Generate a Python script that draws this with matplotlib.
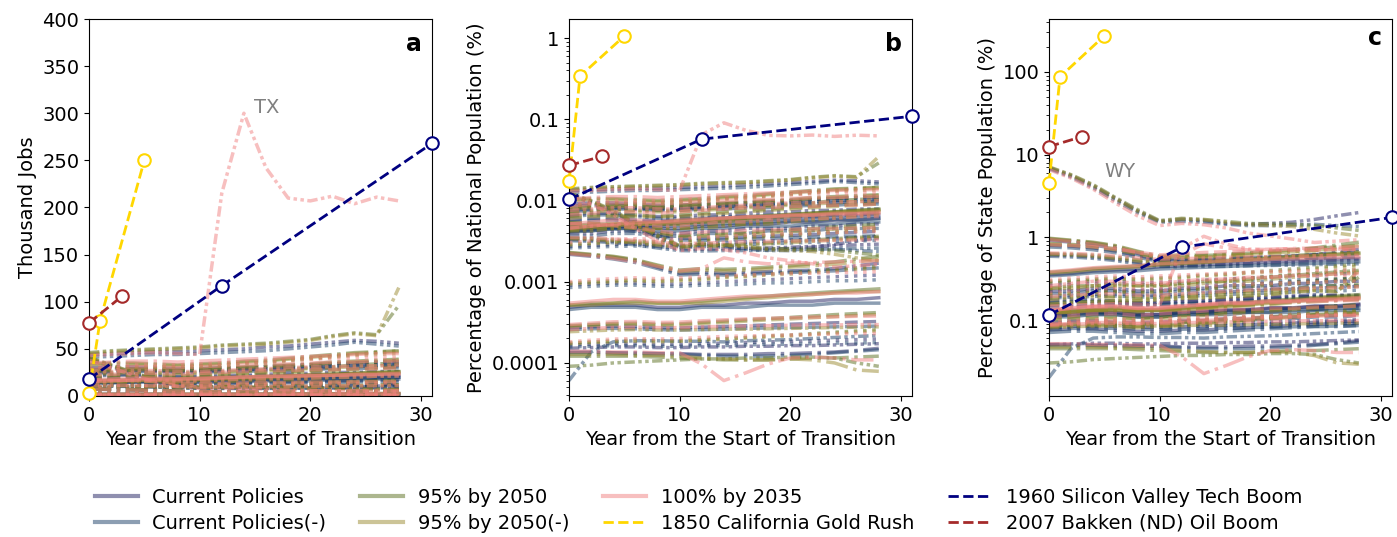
import numpy as np
import matplotlib
matplotlib.use('Agg')
import matplotlib.pyplot as plt
from matplotlib.lines import Line2D
from matplotlib.ticker import FuncFormatter

# annees depuis le debut de la transition (pas de 2 ans)
YEARS = list(range(0, 29, 2))
SCENARIOS = ['Current Policies', 'Current Policies(-)', '95% by 2050',
             '95% by 2050(-)', '100% by 2035']
US_POP = 331449  # milliers d'habitants

STATES = ['TX', 'CA', 'PA', 'OH', 'IL', 'NY', 'FL', 'CO', 'LA', 'OK',
          'NM', 'ND', 'WV', 'MT', 'NH', 'RI', 'SD', 'DE', 'VT', 'WY']
STATE_POP = [29146, 39538, 13003, 11799, 12813, 20201, 21538, 5774, 4658, 3959,
             2118, 779, 1794, 1084, 1377, 1097, 887, 990, 643, 577]

# emplois (milliers) par scenario : CP, CP(-), 95%, 95%(-), 100%
TX = [[44, 45, 46, 47, 47, 48, 49, 50, 52, 53, 55, 57, 59, 58, 56],
      [41, 42, 43, 44, 44, 45, 46, 47, 48, 50, 52, 54, 57, 55, 53],
      [46, 48, 49, 50, 51, 52, 54, 55, 56, 58, 60, 64, 67, 65, 96],
      [45, 47, 48, 49, 50, 51, 53, 54, 55, 57, 59, 63, 66, 64, 115],
      [43, 44, 45, 46, 45, 44, 215, 300, 242, 210, 207, 212, 204, 211, 207]]
CA = [[30, 31, 31, 30, 29, 29, 30, 30, 31, 32, 33, 34, 35, 36, 36],
      [28, 29, 29, 28, 27, 27, 28, 28, 29, 30, 31, 32, 33, 33, 34],
      [34, 35, 35, 34, 33, 34, 35, 37, 38, 40, 42, 44, 46, 47, 48],
      [33, 34, 34, 33, 32, 33, 34, 36, 37, 39, 41, 43, 45, 46, 47],
      [35, 36, 37, 37, 36, 37, 38, 39, 40, 41, 42, 43, 44, 45, 45]]
PA = [[22, 23, 23, 22, 21, 21, 22, 22, 23, 24, 24, 25, 25, 26, 26],
      [21, 22, 22, 21, 20, 20, 20, 21, 21, 22, 22, 23, 23, 24, 24],
      [24, 25, 26, 25, 25, 25, 26, 27, 28, 29, 30, 31, 33, 34, 35],
      [23, 24, 25, 24, 24, 24, 25, 26, 27, 28, 29, 30, 31, 32, 33],
      [25, 26, 27, 27, 26, 26, 27, 28, 29, 30, 31, 31, 32, 32, 33]]
OH = [[27, 28, 28, 27, 27, 28, 29, 30, 31, 32, 33, 34, 35, 36, 38],
      [26, 27, 27, 26, 26, 27, 27, 28, 29, 30, 31, 32, 33, 34, 35],
      [29, 30, 31, 31, 31, 32, 33, 35, 36, 38, 40, 42, 44, 46, 48],
      [28, 29, 30, 30, 30, 31, 32, 34, 35, 37, 39, 41, 43, 44, 45],
      [30, 32, 33, 33, 33, 34, 35, 36, 37, 38, 39, 40, 40, 41, 41]]
IL = [[15, 15, 16, 16, 15, 15, 16, 16, 17, 17, 18, 18, 19, 19, 20],
      [14, 14, 15, 15, 14, 14, 15, 15, 16, 16, 16, 17, 17, 18, 18],
      [16, 17, 17, 18, 17, 17, 18, 19, 20, 21, 22, 23, 24, 25, 26],
      [16, 16, 17, 17, 17, 17, 18, 18, 19, 20, 21, 22, 23, 24, 24],
      [17, 18, 19, 19, 18, 18, 19, 20, 21, 21, 22, 22, 23, 23, 24]]
NY = [[19, 20, 20, 19, 19, 19, 20, 20, 21, 21, 22, 22, 23, 23, 24],
      [18, 19, 19, 18, 18, 18, 19, 19, 20, 20, 21, 21, 22, 22, 23],
      [21, 22, 22, 22, 21, 22, 23, 24, 25, 26, 27, 28, 29, 30, 31],
      [20, 21, 21, 21, 21, 21, 22, 23, 24, 25, 26, 27, 28, 29, 30],
      [22, 23, 24, 24, 23, 24, 25, 26, 27, 27, 28, 28, 29, 29, 30]]
FL = [[25, 26, 27, 27, 26, 26, 27, 28, 28, 29, 30, 30, 31, 32, 32],
      [24, 25, 26, 26, 25, 25, 26, 26, 27, 27, 28, 29, 29, 30, 30],
      [27, 28, 29, 29, 28, 29, 30, 31, 32, 33, 34, 36, 37, 38, 39],
      [26, 27, 28, 28, 27, 28, 29, 30, 31, 32, 33, 35, 36, 37, 38],
      [28, 30, 31, 31, 30, 31, 32, 33, 34, 34, 35, 36, 36, 37, 37]]
CO = [[13, 13, 14, 14, 13, 13, 14, 14, 15, 15, 15, 16, 16, 17, 17],
      [12, 12, 13, 13, 12, 12, 13, 13, 13, 14, 14, 14, 15, 15, 15],
      [14, 15, 15, 16, 15, 15, 16, 17, 17, 18, 19, 20, 21, 22, 23],
      [14, 14, 15, 15, 15, 15, 15, 16, 17, 17, 18, 19, 20, 21, 22],
      [15, 16, 17, 17, 16, 16, 17, 18, 18, 19, 19, 20, 20, 21, 21]]
LA = [[9.0, 9.2, 9.5, 9.6, 9.4, 9.3, 9.6, 9.9, 10.2, 10.5, 10.8, 11.0, 11.3, 11.6, 11.9],
      [8.6, 8.8, 9.0, 9.1, 8.9, 8.8, 9.0, 9.2, 9.5, 9.7, 9.9, 10.1, 10.3, 10.5, 10.7],
      [9.6, 9.9, 10.3, 10.5, 10.3, 10.4, 10.9, 11.4, 11.9, 12.4, 12.9, 13.4, 14.0, 14.6, 15.2],
      [9.4, 9.7, 10.0, 10.2, 10.0, 10.1, 10.5, 11.0, 11.4, 11.9, 12.3, 12.8, 13.3, 13.8, 14.3],
      [10.0, 10.5, 11.0, 11.2, 11.0, 11.1, 11.6, 12.0, 12.4, 12.7, 13.0, 13.2, 13.4, 13.6, 13.8]]
OK = [[14.0, 14.5, 15.5, 16.0, 16.5, 17.5, 18.0, 18.5, 19.0, 19.5, 20.0, 20.5, 21.0, 21.5, 22.0],
      [13.5, 14.0, 14.8, 15.2, 15.6, 16.4, 16.8, 17.2, 17.6, 18.0, 18.4, 18.8, 19.2, 19.6, 20.0],
      [15.0, 15.6, 16.6, 17.2, 17.8, 18.8, 19.4, 20.0, 20.8, 21.6, 22.4, 23.2, 24.0, 24.8, 25.6],
      [14.6, 15.2, 16.2, 16.8, 17.4, 18.4, 19.0, 19.6, 20.4, 21.2, 22.0, 22.8, 23.6, 24.4, 25.2],
      [15.2, 16.0, 17.0, 17.6, 18.0, 19.0, 19.6, 20.2, 20.6, 21.0, 21.4, 21.8, 22.2, 22.6, 23.0]]
NM = [[17.0, 16.6, 15.8, 14.5, 12.8, 11.4, 11.3, 11.5, 11.8, 12.0, 12.3, 12.6, 13.0, 13.4, 13.8],
      [16.2, 15.8, 15.0, 13.8, 12.2, 10.8, 10.7, 10.8, 11.0, 11.2, 11.4, 11.6, 11.8, 12.0, 12.2],
      [17.8, 17.4, 16.6, 15.4, 13.6, 12.2, 12.4, 12.8, 13.3, 13.8, 14.4, 15.0, 15.6, 16.2, 16.8],
      [17.4, 17.0, 16.2, 15.0, 13.3, 11.9, 12.0, 12.4, 12.8, 13.2, 13.7, 14.2, 14.7, 15.2, 15.7],
      [17.2, 16.9, 16.3, 15.3, 14.0, 13.0, 13.4, 13.9, 14.2, 14.4, 14.6, 14.8, 15.0, 15.1, 15.2]]
ND = [[7.4, 7.0, 6.6, 6.0, 5.0, 4.2, 4.3, 4.2, 4.3, 4.4, 4.5, 4.6, 4.8, 5.2, 5.6],
      [7.2, 6.8, 6.3, 5.7, 4.8, 4.0, 4.1, 4.0, 4.1, 4.2, 4.3, 4.4, 4.5, 4.7, 4.9],
      [7.6, 7.2, 6.8, 6.2, 5.3, 4.6, 4.8, 4.7, 4.8, 5.0, 5.2, 5.5, 5.8, 6.3, 6.8],
      [7.5, 7.1, 6.7, 6.1, 5.2, 4.4, 4.6, 4.5, 4.6, 4.8, 5.0, 5.2, 5.4, 5.8, 6.2],
      [7.3, 6.9, 6.4, 5.8, 5.1, 4.5, 4.8, 6.5, 5.8, 5.5, 5.6, 5.7, 5.8, 5.9, 6.0]]
WV = [[11.0, 10.8, 10.4, 9.8, 9.0, 8.4, 8.3, 8.4, 8.5, 8.6, 8.8, 9.0, 9.2, 9.4, 9.6],
      [10.6, 10.4, 10.0, 9.4, 8.6, 8.0, 7.9, 8.0, 8.0, 8.1, 8.2, 8.3, 8.4, 8.5, 8.6],
      [11.4, 11.2, 10.9, 10.3, 9.6, 9.1, 9.2, 9.4, 9.7, 10.0, 10.4, 10.8, 11.2, 11.6, 12.0],
      [11.2, 11.0, 10.6, 10.0, 9.3, 8.8, 8.9, 9.1, 9.4, 9.7, 10.0, 10.4, 10.8, 11.2, 11.6],
      [11.6, 11.5, 11.2, 10.7, 10.1, 9.7, 9.9, 10.1, 10.3, 10.4, 10.5, 10.6, 10.7, 10.8, 10.9]]
MT = [[3.0, 3.1, 3.2, 3.2, 3.1, 3.1, 3.2, 3.3, 3.4, 3.5, 3.6, 3.7, 3.8, 3.9, 4.0],
      [2.8, 2.9, 3.0, 3.0, 2.9, 2.9, 3.0, 3.0, 3.1, 3.2, 3.2, 3.3, 3.4, 3.4, 3.5],
      [3.2, 3.3, 3.4, 3.5, 3.4, 3.5, 3.6, 3.8, 3.9, 4.1, 4.3, 4.5, 4.7, 4.9, 5.1],
      [3.1, 3.2, 3.3, 3.4, 3.3, 3.4, 3.5, 3.7, 3.8, 4.0, 4.1, 4.3, 4.5, 4.7, 4.8],
      [3.3, 3.5, 3.6, 3.7, 3.6, 3.7, 3.8, 3.9, 4.0, 4.1, 4.2, 4.2, 4.3, 4.3, 4.4]]
NH = [[1.6, 1.7, 1.7, 1.7, 1.6, 1.6, 1.7, 1.7, 1.8, 1.8, 1.9, 1.9, 2.0, 2.0, 2.1],
      [1.5, 1.6, 1.6, 1.6, 1.5, 1.5, 1.6, 1.6, 1.6, 1.7, 1.7, 1.7, 1.8, 1.8, 1.8],
      [1.7, 1.8, 1.8, 1.9, 1.8, 1.8, 1.9, 2.0, 2.1, 2.2, 2.3, 2.4, 2.5, 2.6, 2.7],
      [1.7, 1.7, 1.8, 1.8, 1.8, 1.8, 1.8, 1.9, 2.0, 2.1, 2.2, 2.3, 2.4, 2.5, 2.5],
      [1.8, 1.9, 2.0, 2.0, 1.9, 1.9, 2.0, 2.1, 2.2, 2.2, 2.3, 2.3, 2.4, 2.4, 2.5]]
RI = [[0.90, 0.92, 0.94, 0.93, 0.90, 0.89, 0.91, 0.93, 0.95, 0.97, 0.99, 1.01, 1.03, 1.05, 1.07],
      [0.85, 0.87, 0.88, 0.87, 0.85, 0.84, 0.85, 0.86, 0.88, 0.89, 0.90, 0.91, 0.92, 0.93, 0.94],
      [0.95, 0.98, 1.01, 1.02, 0.99, 1.00, 1.04, 1.08, 1.12, 1.16, 1.20, 1.25, 1.30, 1.34, 1.38],
      [0.93, 0.96, 0.98, 0.99, 0.97, 0.97, 1.01, 1.04, 1.08, 1.12, 1.15, 1.19, 1.23, 1.27, 1.31],
      [0.98, 1.02, 1.06, 1.07, 1.04, 1.05, 1.09, 1.12, 1.15, 1.17, 1.19, 1.21, 1.22, 1.24, 1.25]]
SD = [[0.45, 0.45, 0.44, 0.44, 0.43, 0.43, 0.42, 0.42, 0.42, 0.43, 0.43, 0.44, 0.45, 0.47, 0.50],
      [0.44, 0.44, 0.44, 0.43, 0.43, 0.42, 0.41, 0.40, 0.40, 0.40, 0.41, 0.42, 0.44, 0.46, 0.48],
      [0.40, 0.40, 0.40, 0.40, 0.39, 0.38, 0.37, 0.36, 0.36, 0.36, 0.37, 0.38, 0.38, 0.39, 0.40],
      [0.42, 0.42, 0.42, 0.41, 0.41, 0.40, 0.38, 0.37, 0.36, 0.36, 0.37, 0.36, 0.33, 0.27, 0.26],
      [0.46, 0.46, 0.45, 0.45, 0.44, 0.44, 0.32, 0.20, 0.25, 0.32, 0.38, 0.39, 0.38, 0.36, 0.36]]
DE = [[0.50, 0.51, 0.52, 0.52, 0.51, 0.51, 0.52, 0.52, 0.53, 0.53, 0.54, 0.54, 0.55, 0.56, 0.57],
      [0.20, 0.45, 0.60, 0.62, 0.62, 0.61, 0.61, 0.60, 0.62, 0.63, 0.64, 0.66, 0.68, 0.70, 0.72],
      [0.30, 0.31, 0.33, 0.34, 0.35, 0.36, 0.37, 0.37, 0.38, 0.38, 0.39, 0.39, 0.38, 0.33, 0.30],
      [0.80, 0.82, 0.84, 0.85, 0.84, 0.84, 0.85, 0.86, 0.86, 0.87, 0.88, 0.89, 0.90, 0.91, 0.92],
      [0.85, 0.88, 0.90, 0.91, 0.90, 0.90, 0.92, 0.93, 0.94, 0.95, 0.96, 0.97, 0.97, 0.98, 0.98]]
VT = [[0.55, 0.56, 0.57, 0.57, 0.56, 0.56, 0.57, 0.58, 0.59, 0.60, 0.61, 0.62, 0.63, 0.64, 0.65],
      [0.52, 0.53, 0.54, 0.54, 0.53, 0.53, 0.54, 0.54, 0.55, 0.56, 0.56, 0.57, 0.58, 0.58, 0.59],
      [0.58, 0.60, 0.62, 0.63, 0.62, 0.62, 0.64, 0.66, 0.68, 0.71, 0.73, 0.76, 0.79, 0.82, 0.85],
      [0.57, 0.59, 0.60, 0.61, 0.60, 0.61, 0.63, 0.65, 0.67, 0.69, 0.71, 0.74, 0.77, 0.80, 0.82],
      [0.60, 0.63, 0.65, 0.66, 0.65, 0.66, 0.68, 0.70, 0.71, 0.72, 0.73, 0.74, 0.75, 0.76, 0.76]]
WY = [[40, 32, 24, 17, 12, 9.0, 9.5, 9.2, 8.5, 8.3, 8.5, 8.8, 9.5, 10.5, 11.5],
      [39, 31, 23, 16, 11.5, 8.8, 9.0, 8.8, 8.3, 8.0, 8.0, 8.1, 8.3, 8.0, 7.8],
      [41, 33, 25, 17.5, 12.5, 9.2, 9.8, 9.5, 9.0, 8.5, 8.4, 8.3, 8.0, 7.5, 7.0],
      [40.5, 32.5, 24.5, 17, 12, 9.0, 9.6, 9.4, 8.8, 8.2, 8.0, 7.8, 7.2, 6.5, 6.0],
      [38, 30, 22, 15, 10.5, 8.0, 8.5, 8.2, 7.5, 6.5, 6.0, 5.5, 5.0, 5.2, 5.4]]
STATE_JOBS = [TX, CA, PA, OH, IL, NY, FL, CO, LA, OK,
              NM, ND, WV, MT, NH, RI, SD, DE, VT, WY]

# booms historiques : [milliers d'emplois, % pop. nationale, % pop. etat]
GOLD_YEARS = [0, 1, 5]
GOLD = [[3, 80, 250], [0.0172, 0.34, 1.06], [4.5, 87, 272]]
SV_YEARS = [0, 12, 31]
SV = [[18, 117, 268], [0.0103, 0.057, 0.109], [0.115, 0.76, 1.74]]
BAKKEN_YEARS = [0, 3]
BAKKEN = [[77.5, 106], [0.027, 0.035], [12.5, 16.5]]

COLORS = ['#202060', '#1b3f66', '#5a6e1e', '#9a8a30', '#f08080']
STYLES = ['--', '-.', (0, (3, 1, 1, 1, 1, 1)), ':', '-']
FS = 14

fig, axes = plt.subplots(1, 3, figsize=(13.97, 5.37), dpi=100)
fig.subplots_adjust(left=0.0637, right=0.9964, top=0.9646, bottom=0.2626, wspace=0.3994)

# scenario par scenario : le rose (100% by 2035) passe au-dessus
for j in range(len(SCENARIOS)):
    for i in range(len(STATES)):
        ls = STYLES[i % len(STYLES)]
        if STATES[i] in ('TX', 'WY'):
            ls = (0, (3, 1, 1, 1, 1, 1))
        jobs = np.array(STATE_JOBS[i][j], dtype=float)
        vals = [jobs, jobs / US_POP * 100, jobs / STATE_POP[i] * 100]
        for ax, v in zip(axes, vals):
            ax.plot(YEARS, v, color=COLORS[j], ls=ls, lw=2.5, alpha=0.5)

for k, ax in enumerate(axes):
    for yrs, d, c in [(GOLD_YEARS, GOLD, 'gold'), (SV_YEARS, SV, 'navy'),
                      (BAKKEN_YEARS, BAKKEN, 'brown')]:
        ax.plot(yrs, d[k], color=c, ls='--', lw=2, marker='o', ms=9,
                mfc='white', mec=c, mew=1.5, clip_on=False, zorder=10)
    ax.set_xlim(0, 31)
    ax.set_xticks([0, 10, 20, 30])
    ax.set_xlabel('Year from the Start of Transition', fontsize=FS)
    ax.tick_params(labelsize=FS)

axes[0].set_ylim(0, 400)
axes[0].set_yticks(range(0, 401, 50))
axes[0].set_ylabel('Thousand Jobs', fontsize=FS)
axes[1].set_yscale('log')
axes[1].set_ylim(3.9e-5, 1.72)
axes[1].set_ylabel('Percentage of National Population (%)', fontsize=FS)
axes[2].set_yscale('log')
axes[2].set_ylim(0.0121, 435)
axes[2].set_ylabel('Percentage of State Population (%)', fontsize=FS)
for ax in axes[1:]:
    ax.yaxis.set_major_formatter(FuncFormatter(lambda v, p: f'{v:g}'))

axes[0].text(16.1, 306, 'TX', color='gray', fontsize=FS, ha='center', va='center')
axes[2].text(6.4, 6.2, 'WY', color='gray', fontsize=FS, ha='center', va='center')
for ax, lab, yy in zip(axes, ['a', 'b', 'c'], [0.935, 0.935, 0.95]):
    ax.text(0.97, yy, lab, transform=ax.transAxes, ha='right', va='center',
            fontsize=17, fontweight='bold')

handles = [Line2D([], [], color=c, lw=3, alpha=0.5) for c in COLORS]
handles += [Line2D([], [], color=c, ls='--', lw=2) for c in ['gold', 'navy', 'brown']]
labels = SCENARIOS + ['1850 California Gold Rush', '1960 Silicon Valley Tech Boom',
                      '2007 Bakken (ND) Oil Boom']
fig.legend(handles, labels, ncol=4, loc='lower center', bbox_to_anchor=(0.5, -0.025),
           frameon=False, fontsize=FS, columnspacing=1.75, handlelength=2.2,
           handletextpad=0.75, labelspacing=0.35)

plt.savefig('out.png', dpi=100)
